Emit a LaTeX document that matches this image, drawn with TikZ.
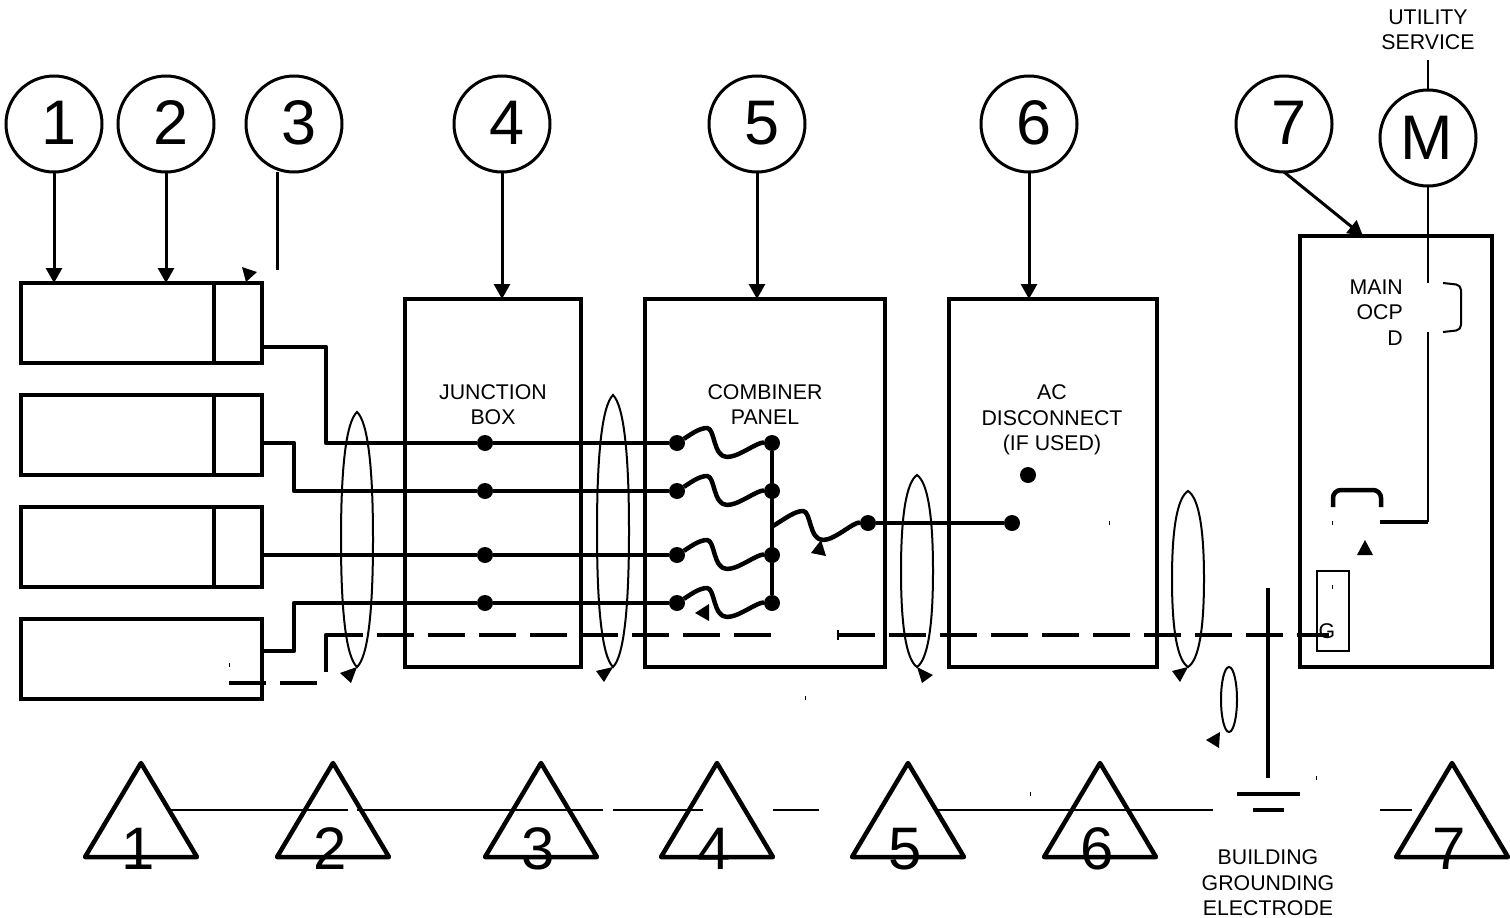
\documentclass[tikz,border=0pt]{standalone}
\usepackage{fontspec}
\setmainfont{Liberation Sans}
\usetikzlibrary{arrows.meta,calc}
\tikzset{
  numcircle/.style={draw,circle,line width=3pt,minimum size=96pt,inner sep=0pt,outer sep=0pt},
  digitlbl/.style={inner sep=0pt,font=\fontsize{63}{63}\selectfont},
  modbox/.style={draw,line width=4.5pt,minimum width=241pt,minimum height=80pt,inner sep=0pt,outer sep=0pt},
  panelbox/.style={draw,line width=4.5pt,inner sep=0pt,outer sep=0pt},
  termdot/.style={fill,circle,minimum size=16pt,inner sep=0pt,outer sep=0pt},
  txt/.style={align=center,inner sep=0pt,font=\fontsize{21.3}{25.5}\selectfont},
  bigdigit/.style={inner sep=0pt,font=\fontsize{60}{60}\selectfont},
  wire/.style={line width=4.5pt,line join=round},
  thinwire/.style={line width=2pt},
  groundwire/.style={line width=4.5pt,dash pattern=on 37pt off 14pt},
  leader/.style={line width=3pt,-{Triangle[length=15pt,width=16pt]}},
  fuse/.style={to path={.. controls +(13,-8) and +(-8,0) .. ++(30,-15) .. controls +(8,0) and +(-14,0) .. ++(20,29) .. controls +(12,0) and +(-15,-1) .. (\tikztotarget)}}
}
\begin{document}
\begin{tikzpicture}[x=1pt,y=-1pt]
  \useasboundingbox (0,0) rectangle (1510,918);

  % Numbered circles
  \foreach \n/\x in {1/54,2/166,3/294,4/502,5/757,6/1029,7/1284} {
    \node[numcircle] (c\n) at (\x,124) {};
    \node[digitlbl] (d\n) at (\x+5,123) {\n};
  }
  \node[numcircle] (cM) at (1428,138) {};
  \node[digitlbl] (dM) at (1427,138) {M};

  % Modules
  \foreach \n/\y in {1/323,2/435,3/547,4/659} {
    \node[modbox] (m\n) at (141.5,\y) {};
  }
  \foreach \n in {1,2,3} {
    \draw[wire] ($(m\n.north west)+(193,0)$) -- ($(m\n.south west)+(193,0)$);
  }

  % Enclosures
  \node[panelbox,minimum width=176pt,minimum height=368pt] (jbox) at (493,483) {};
  \node[panelbox,minimum width=240pt,minimum height=368pt] (cpanel) at (765,483) {};
  \node[panelbox,minimum width=208pt,minimum height=368pt] (acd) at (1053,483) {};
  \node[panelbox,minimum width=192pt,minimum height=431pt] (mainp) at (1396,451.5) {};
  \node[draw,line width=1.8pt,minimum width=32pt,minimum height=80pt,inner sep=0pt] (gbox) at (1333,611) {};

  % Labels
  \node[txt] (lblutil) at (1428,30) {UTILITY\\SERVICE};
  \node[txt] (lbljb) at (493,404.5) {JUNCTION\\BOX};
  \node[txt] (lblcp) at (765,404.5) {COMBINER\\PANEL};
  \node[txt] (lblac) at (1052,420) {AC\\DISCONNECT\\(IF USED)};
  \node[txt,align=right,anchor=east] (lblocp) at (1403,312.5) {MAIN\\OCP\\D};
  \node[txt] (lblgnd) at (1268,883) {BUILDING\\GROUNDING\\ELECTRODE};
  \node[txt] (lblg) at (1327,631) {G};

  % Leaders from circles
  \foreach \n in {1,2} {
    \draw[leader] (c\n) -- (c\n |- m1.north);
  }
  \draw[leader] (c4) -- (c4 |- jbox.north);
  \draw[leader] (c5) -- (c5 |- cpanel.north);
  \draw[leader] (c6) -- (c6 |- acd.north);
  \coordinate (t7) at (1363,236);
  \draw[leader] (c7.south) -- (t7);
  \coordinate (c3end) at (277,270);
  \draw[line width=3pt] (c3.south -| c3end) -- (c3end);

  % Terminals
  \foreach \n/\y in {1/443,2/491,3/555,4/603} {
    \node[termdot] (j\n) at (485,\y) {};
    \node[termdot] (f\n) at (677,\y) {};
    \node[termdot] (b\n) at (772,\y) {};
  }
  \node[termdot] (out) at (868,523) {};
  \node[termdot] (acin) at (1012,523) {};
  \node[termdot] (acout) at (1028,475) {};

  % String wiring
  \coordinate (w1) at (m1.east |- 0,347);
  \coordinate (w2) at (m2.east |- 0,443);
  \coordinate (w3) at (m3.east |- 0,555);
  \coordinate (w4) at (m4.east |- 0,651);
  \draw[wire] (w1) -- (326,347) -- (326,443) -- (j1) -- (f1);
  \draw[wire] (w2) -- (294,443) -- (294,491) -- (j2) -- (f2);
  \draw[wire] (w3) -- (j3) -- (f3);
  \draw[wire] (w4) -- (294,651) -- (294,603) -- (j4) -- (f4);
  \foreach \n in {1,2,3,4} {
    \draw[wire] (f\n) to[fuse] (b\n);
  }
  \draw[wire] (b1) -- (b4);
  \coordinate (busout) at (773,526);
  \draw[wire] (busout) to[fuse] (out);
  \draw[wire] (out) -- (acin);

  % Ground conductor
  \draw[groundwire] (229,683) -- (318,683);
  \draw[wire] (326,672) -- (326,635) -- (363,635);
  \draw[groundwire] (377,635) -- (773,635);
  \draw[groundwire] (838,635) -- (1329,635);

  % Conduit loops
  \foreach \x/\t in {357/412,613/395,917/475,1188/491} {
    \pgfmathsetmacro\h{667-\t}
    \pgfmathsetmacro\m{(667+\t)/2}
    \draw[thinwire] (\x,\t) .. controls (\x-11,{\t+0.04*\h}) and (\x-16,{\t+0.22*\h}) .. (\x-16,\m)
      .. controls (\x-16,{667-0.22*\h}) and (\x-11,{667-0.04*\h}) .. (\x,667)
      .. controls (\x+11,{667-0.04*\h}) and (\x+16,{667-0.22*\h}) .. (\x+16,\m)
      .. controls (\x+16,{\t+0.22*\h}) and (\x+11,{\t+0.04*\h}) .. (\x,\t) -- cycle;
  }
  \draw[thinwire] (1229,699.5) ellipse (8 and 32.5);

  % Loose arrowheads
  \fill (242,267) -- (257,272) -- (246,282) -- cycle;
  \fill (357,667) -- (340,673) -- (351,683) -- cycle;
  \fill (613,667) -- (596,671) -- (604,682) -- cycle;
  \fill (917,667) -- (933,675) -- (922,683) -- cycle;
  \fill (1188,667) -- (1172,671) -- (1180,682) -- cycle;
  \fill (1220,732) -- (1206,740) -- (1219,748) -- cycle;
  \fill (821,540) -- (811,553) -- (826,556) -- cycle;
  \fill (709,604) -- (695,613) -- (709,621) -- cycle;
  \fill (1365,540) -- (1357,555) -- (1373,555) -- cycle;

  % Utility feed and main breaker
  \draw[thinwire] (cM.north) -- (1428,60);
  \draw[thinwire] (cM.south) -- (1428,283);
  \draw[thinwire] (1428,332) -- (1428,522);
  \draw[wire] (1428,522) -- (1380,522);
  \draw[line width=4.5pt,rounded corners=8pt] (1333,507) -- (1333,490) -- (1381,490) -- (1381,507);
  \draw[thinwire,rounded corners=5pt] (1443,283) -- (1461,285) -- (1461,330) -- (1443,332);

  % Building electrode
  \draw[line width=3.5pt] (1268,588) -- (1268,778);
  \draw[line width=3.5pt] (1237,794) -- (1300,794);
  \draw[line width=3.5pt] (1253,810) -- (1284,810);

  % Tag triangles
  \foreach \n/\x in {1/141,2/333,3/541,4/717,5/908,6/1100,7/1452} {
    \draw[line width=4.5pt,line join=round] (\x,763) -- (\x+56,857) -- (\x-56,857) -- cycle;
    \node[bigdigit] (t\n) at (\x-3,849) {\n};
  }
  \foreach \xa/\xb in {167/348,357/603,613/703,773/819,934/1213,1380/1412} {
    \draw[line width=2.5pt] (\xa,810) -- (\xb,810);
  }

  % Stray ticks
  \foreach \x/\y in {229/665,805/698,1030/794,1109/523,1332/523,1332/587,1316/778} {
    \draw[line width=1pt] (\x,\y-2) -- (\x,\y+2);
  }
  \draw[line width=1.5pt] (838,630) -- (838,640);
\end{tikzpicture}
\end{document}
